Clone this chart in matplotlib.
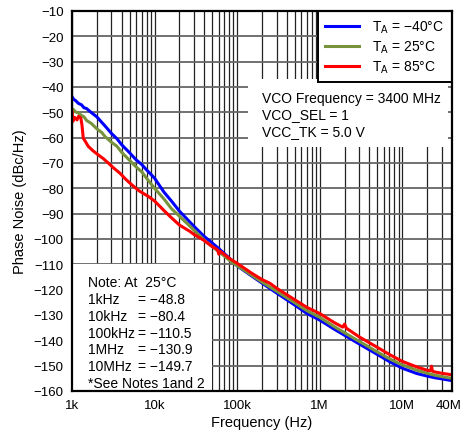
import matplotlib
matplotlib.use("Agg")
import matplotlib.pyplot as plt
from matplotlib.patches import Rectangle
from matplotlib.transforms import ScaledTranslation
from matplotlib.ticker import FixedLocator, NullFormatter, LogLocator

plt.rcParams['font.family'] = ['Liberation Sans', 'DejaVu Sans']
plt.rcParams['mathtext.fontset'] = 'custom'
plt.rcParams['mathtext.rm'] = 'Liberation Sans'

# ---- data ----
freq_blue = [1000, 1050, 1100, 1200, 1300, 1400, 1500, 1700, 2000, 2300, 2500, 3000, 3500, 4000, 5000,
             6000, 7000, 8000, 10e3, 13e3, 16e3, 20e3, 25e3, 30e3, 40e3, 50e3, 60e3, 80e3, 100e3,
             150e3, 200e3, 300e3, 500e3, 700e3, 1e6, 1.5e6, 2e6, 3e6, 5e6, 7e6, 10e6, 15e6, 20e6,
             25e6, 30e6, 40e6]
pn_blue = [-43.8, -44.9, -45.3, -46.5, -47.0, -48.2, -48.5, -50.0, -51.8, -54.0, -55.3, -58.3, -60.4,
           -62.8, -66.0, -68.8, -70.6, -72.7, -76.0, -81.5, -85.0, -89.0, -92.3, -95.0, -99.0, -101.6,
           -103.8, -107.5, -110.6, -114.6, -117.4, -121.3, -126.1, -129.4, -132.0, -135.6, -138.0,
           -141.4, -145.6, -148.4, -151.0, -153.1, -154.1, -154.8, -155.2, -155.9]

freq_green = [1000, 1050, 1100, 1200, 1300, 1400, 1500, 1700, 2000, 2300, 2500, 3000, 3500, 4000, 5000,
              6000, 7000, 8000, 10e3, 13e3, 16e3, 20e3, 25e3, 30e3, 40e3, 50e3, 60e3, 80e3, 100e3,
              150e3, 200e3, 300e3, 500e3, 700e3, 1e6, 1.5e6, 2e6, 3e6, 5e6, 7e6, 10e6, 15e6, 20e6,
              25e6, 30e6, 40e6]
pn_green = [-48.5, -49.0, -49.8, -50.3, -51.2, -51.8, -53.2, -54.3, -56.5, -58.0, -59.5, -61.8, -63.4,
            -65.8, -69.0, -71.6, -73.5, -76.0, -80.0, -84.2, -88.0, -91.0, -94.0, -96.5, -100.5, -103.0,
            -105.0, -108.3, -110.5, -114.3, -117.0, -120.6, -125.2, -128.3, -130.9, -134.6, -137.0,
            -140.4, -144.6, -147.3, -149.7, -151.8, -153.0, -153.8, -154.3, -155.0]

freq_red = [1000, 1030, 1080, 1150, 1200, 1280, 1320, 1370, 1450, 1580, 1800, 2080, 2400, 2750, 3200,
            3800, 4500, 5300, 6500, 8400, 10e3, 13.4e3, 15.4e3, 20e3, 26.8e3, 30e3, 39e3, 50e3, 58e3,
            60e3, 62e3, 80e3, 100e3, 150e3, 200e3, 250e3, 300e3, 500e3, 700e3, 1e6, 1.5e6, 1.9e6,
            2.0e6, 2.1e6, 3e6, 5e6, 7e6, 10e6, 15e6, 20e6, 22e6, 22.6e6, 23.2e6, 25e6, 30e6, 40e6]
pn_red = [-49.6, -53.5, -52.0, -53.0, -51.6, -52.3, -55.0, -60.2, -61.5, -63.5, -65.2, -66.8, -68.3,
          -70.0, -72.0, -74.0, -76.5, -78.6, -81.0, -83.2, -85.0, -89.2, -91.1, -94.5, -97.0, -98.2,
          -100.4, -103.0, -104.3, -106.0, -104.8, -107.6, -109.6, -113.5, -116.0, -117.5, -119.4,
          -124.0, -127.0, -129.4, -133.0, -134.8, -133.6, -135.2, -138.6, -142.8, -145.6, -148.3,
          -150.5, -151.8, -152.0, -150.2, -152.2, -152.5, -153.0, -153.6]

labels = ['T$_\\mathregular{A}$ = \u221240\u00b0C', 'T$_\\mathregular{A}$ = 25\u00b0C',
          'T$_\\mathregular{A}$ = 85\u00b0C']
colors = ['#0000FF', '#77933C', '#FF0000']

xticks = [1e3, 1e4, 1e5, 1e6, 1e7, 4e7]
xticklabels = ['1k', '10k', '100k', '1M', '10M', '40M']
yticks = list(range(-160, 0, 10))

note_labels = ['1kHz', '10kHz', '100kHz', '1MHz', '10MHz']
note_values = ['= \u221248.8', '= \u221280.4', '= \u2212110.5', '= \u2212130.9', '= \u2212149.7']

# ---- figure ----
fig = plt.figure(figsize=(4.63, 4.35), dpi=100)
ax = fig.add_axes([72/463, 43/435, 380/463, 380/435])

ax.set_xscale('log')
ax.set_xlim(1e3, 4e7)
ax.set_ylim(-160, -10)

ax.plot(freq_blue, pn_blue, color=colors[0], lw=2.2, label=labels[0], zorder=3)
ax.plot(freq_green, pn_green, color=colors[1], lw=2.2, label=labels[1], zorder=4)
ax.plot(freq_red, pn_red, color=colors[2], lw=2.2, label=labels[2], zorder=5)

ax.xaxis.set_major_locator(FixedLocator(xticks))
ax.set_xticklabels(xticklabels)
ax.xaxis.set_minor_locator(LogLocator(base=10, subs=range(2, 10), numticks=20))
ax.xaxis.set_minor_formatter(NullFormatter())
ax.set_yticks(yticks)
ax.set_yticklabels(['\u2212%d' % (-v) for v in yticks])
ax.tick_params(which='both', length=0, labelsize=9.5, pad=6)

# keep the last tick label inside the figure
last = ax.get_xticklabels()[-1]
last.set_transform(last.get_transform() + ScaledTranslation(-3/100, 0, fig.dpi_scale_trans))

ax.grid(True, which='major', axis='x', color='#222222', lw=0.9)
ax.grid(True, which='minor', axis='x', color='#222222', lw=0.9)
ax.grid(True, which='major', axis='y', color='#666666', lw=1.3)
ax.set_axisbelow(True)
for s in ax.spines.values():
    s.set_linewidth(1.6)
    s.set_zorder(10)

ax.set_xlabel('Frequency (Hz)', fontsize=10.5, labelpad=3)
ax.set_ylabel('Phase Noise (dBc/Hz)', fontsize=10.5, labelpad=5)

def fx(px):
    return (px - 72) / 380.0

def fy(py):
    return (392 - py) / 380.0

# note box
ax.add_patch(Rectangle((0, 0), fx(212), fy(265), transform=ax.transAxes,
                       facecolor='white', edgecolor='none', zorder=2))
ax.text(fx(88), fy(283), 'Note: At  25\u00b0C', transform=ax.transAxes, fontsize=10,
        va='center', ha='left', zorder=6)
for i, (l, v) in enumerate(zip(note_labels, note_values)):
    y = 300 + i * 16.8
    ax.text(fx(88), fy(y), l, transform=ax.transAxes, fontsize=10, va='center', ha='left', zorder=6)
    ax.text(fx(138.5), fy(y), v, transform=ax.transAxes, fontsize=10, va='center', ha='left', zorder=6)
ax.text(fx(88), fy(384), '*See Notes 1and 2', transform=ax.transAxes, fontsize=10,
        va='center', ha='left', zorder=6)

# VCO box
ax.add_patch(Rectangle((fx(248), fy(148)), fx(448) - fx(248), fy(80) - fy(148),
                       transform=ax.transAxes, facecolor='white', edgecolor='none', zorder=2))
for i, t in enumerate(['VCO Frequency = 3400 MHz', 'VCO_SEL = 1', 'VCC_TK = 5.0 V']):
    ax.text(fx(262), fy(99.3 + i * 16.2), t, transform=ax.transAxes, fontsize=10,
            va='center', ha='left', zorder=6)

leg = ax.legend(loc='upper right', bbox_to_anchor=(1.0, 1.0), borderaxespad=0.0, fontsize=10,
                frameon=True, fancybox=False, handlelength=2.4, handletextpad=1.0,
                labelspacing=0.25, borderpad=0.55, edgecolor='black', framealpha=1.0)
leg.get_frame().set_linewidth(1.4)
leg.set_zorder(8)

fig.savefig('out.png', dpi=100)
